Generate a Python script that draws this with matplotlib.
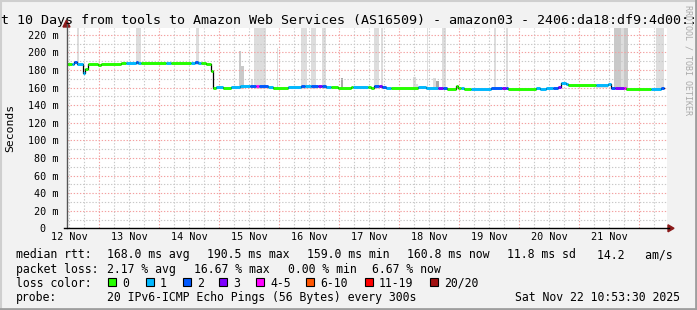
import matplotlib
matplotlib.use('Agg')
import matplotlib.pyplot as plt
from matplotlib.lines import Line2D
from matplotlib.patches import Rectangle, Polygon
from datetime import datetime, timedelta

W, H = 697, 310
start = datetime(2025, 11, 12, 10, 53, 30)
end = datetime(2025, 11, 22, 10, 53, 30)

# ---- median rtt: step changes (hours since start), value in ms, lost pings of 20
seg_hours = [0.0, 2.1, 2.9, 4.3, 6.5, 7.2, 8.5, 12.5, 13.9, 21.9, 23.9, 27.9, 28.5, 29.9,
             39.9, 41.9, 49.9, 51.2, 52.5, 53.9, 55.9, 57.9, 58.5, 59.9, 62.5, 65.9, 69.2,
             73.2, 75.9, 76.8, 80.5, 82.5, 88.5, 93.9, 95.2, 97.9, 100.5, 102.1, 103.9, 105.9,
             108.5, 113.9, 114.5, 120.5, 121.9, 122.8, 124.8, 126.1, 127.9, 129.9, 140.5,
             143.9, 148.5, 150.5, 152.3, 155.6, 156.5, 157.9, 158.9, 161.9, 169.9, 174.1,
             175.9, 176.5, 187.9, 189.2, 191.9, 194.5, 196.5, 197.6, 199.9, 200.5, 211.9,
             216.5, 217.9, 219.2, 222.8, 223.9, 233.9, 237.9]
seg_end_hour = 238.8
seg_ms = [187, 187, 189, 187, 177, 181, 187, 185.5, 187, 188, 188, 189, 188, 188,
          188, 188, 188, 189, 188, 188, 187, 179, 160, 161, 159, 161, 162,
          162, 162, 162, 161, 160, 161, 162, 161.5, 162, 162, 162, 160.5, 160.5,
          159.5, 160.5, 160.5, 160.5, 159.5, 162, 162, 160.5, 159.5, 159.5, 160.5,
          159.5, 159, 159, 158.8, 162, 159.5, 160, 158.8, 158.8, 159.5, 159.5,
          159.5, 158.8, 160, 158.8, 160, 160, 160.5, 165, 163.5, 163, 163,
          164, 160, 160, 160, 158.8, 158.8, 160]
seg_loss = [0, 1, 2, 1, 1, 0, 0, 0, 0, 0, 1, 2, 1, 0,
            1, 0, 1, 2, 1, 0, 0, 0, 0, 1, 0, 1, 1,
            2, 4, 2, 1, 0, 1, 2, 1, 2, 3, 2, 1, 0,
            0, 0, 1, 0, 0, 2, 3, 2, 1, 0, 1,
            1, 3, 2, 0, 0, 0, 1, 0, 1, 2, 3,
            2, 0, 1, 1, 1, 2, 3, 1, 1, 0, 1,
            1, 2, 3, 4, 0, 1, 2]

# ---- smoke (spread of pings): start/end hours, low/high ms, tone index
smoke_start = [4.0, 27.9, 51.9, 74.8, 93.9, 97.9, 102.1, 122.8, 125.6, 144.0, 150.1, 170.8,
               175.9, 218.8, 221.9, 222.8, 235.9,
               68.8, 69.9, 73.9, 84.1, 109.9, 138.5, 139.9, 146.5, 147.9, 211.9]
smoke_end = [4.8, 29.9, 52.8, 79.9, 96.0, 99.9, 103.9, 124.8, 126.5, 144.8, 151.9, 171.9,
             176.8, 221.9, 222.8, 224.5, 238.8,
             69.9, 70.8, 74.8, 84.7, 110.8, 139.9, 140.8, 147.9, 148.8, 216.5]
smoke_low = [186, 186, 186, 158, 158, 158, 158, 158, 158, 158, 158, 157,
             157, 158, 158, 158, 157,
             158, 158, 158, 158, 158, 158, 158, 158, 158, 160]
smoke_high = [260, 260, 260, 260, 260, 260, 260, 260, 260, 260, 260, 260,
              260, 260, 260, 260, 260,
              201, 185, 170, 204.5, 171, 172, 164, 171, 167, 164.5]
smoke_tone = [0, 0, 0, 0, 0, 0, 0, 0, 0, 0, 0, 0,
              0, 1, 0, 1, 0,
              1, 1, 0, 0, 2, 0, 0, 0, 2, 0]
tone_colors = ['#dddddd', '#c9c9c9', '#a9a9a9']

y_ticks = [0, 20, 40, 60, 80, 100, 120, 140, 160, 180, 200, 220]
y_labels = ['0  ', '20 m', '40 m', '60 m', '80 m', '100 m', '120 m', '140 m',
            '160 m', '180 m', '200 m', '220 m']
day_labels = ['12 Nov', '13 Nov', '14 Nov', '15 Nov', '16 Nov', '17 Nov',
              '18 Nov', '19 Nov', '20 Nov', '21 Nov']

loss_labels = ['0', '1', '2', '3', '4-5', '6-10', '11-19', '20/20']
loss_colors = ['#26ff00', '#00b8ff', '#0059ff', '#7e00ff', '#ff00ff', '#ff5500', '#ff0000', '#a01010']

title = 'Last 10 Days from tools to Amazon Web Services (AS16509) - amazon03 - 2406:da18:df9:4d00::'
rtt_stats = ['168.0 ms avg', '190.5 ms max', '159.0 ms min', '160.8 ms now', '11.8 ms sd', '14.2   am/s']
loss_stats = ['2.17 % avg', '16.67 % max', '0.00 % min', '6.67 % now']
probe_text = '20 IPv6-ICMP Echo Pings (56 Bytes) every 300s'
stamp_text = 'Sat Nov 22 10:53:30 2025'


def loss_index(n):
    if n <= 3:
        return n
    if n <= 5:
        return 4
    if n <= 10:
        return 5
    if n <= 19:
        return 6
    return 7


def fx(x):
    return x / W


def fy(y):
    return 1 - y / H


MONO = 'DejaVu Sans Mono'
plt.rcParams['font.family'] = MONO

fig = plt.figure(figsize=(W / 100, H / 100), dpi=100, facecolor='#f2f2f2')

L, R, T, B = 66.5, 666.5, 27.7, 228.3
ax = fig.add_axes([fx(L), fy(B), (R - L) / W, (B - T) / H])
ax.set_facecolor('white')
for s in ax.spines.values():
    s.set_visible(False)
ax.set_xlim(start, end)
ax.set_ylim(0, 228)


def t(h):
    return start + timedelta(hours=h)


# smoke bars
for s0, s1, lo, hi, tn in zip(smoke_start, smoke_end, smoke_low, smoke_high, smoke_tone):
    ax.bar(t(s0), hi - lo, bottom=lo, width=(s1 - s0) / 24.0, align='edge',
           color=tone_colors[tn], linewidth=0, zorder=1)

# grid
minor_col = '#c8c8c8'
major_col = '#f3a0a0'
gt = datetime(2025, 11, 12, 12)
while gt < end:
    if gt > start:
        is_major = (gt.hour == 0)
        ax.axvline(gt, color=major_col if is_major else minor_col, lw=0.8,
                   ls=(0, (1.2, 1.6)), zorder=2)
    gt += timedelta(hours=6)
for v in range(10, 228, 10):
    ax.axhline(v, color=major_col if v % 20 == 0 else minor_col, lw=0.8,
               ls=(0, (1.2, 1.6)), zorder=2)

# median line: black step + coloured segments
xs = [t(h) for h in seg_hours] + [t(seg_end_hour)]
ys = seg_ms + [seg_ms[-1]]
ax.step(xs, ys, where='post', color='black', lw=0.9, zorder=3)
seg_ends = seg_hours[1:] + [seg_end_hour]
ax.hlines(seg_ms, [t(h) for h in seg_hours], [t(h) for h in seg_ends],
          colors=[loss_colors[loss_index(n)] for n in seg_loss], lw=2.1, zorder=4)

# ticks
ax.set_yticks(y_ticks)
ax.set_yticklabels(y_labels)
noons = [datetime(2025, 11, 12 + i, 12) for i in range(len(day_labels))]
ax.set_xticks(noons)
ax.set_xticklabels(day_labels)
ax.tick_params(axis='both', length=0, labelsize=7.3, colors='black')
ax.tick_params(axis='y', pad=6)
ax.tick_params(axis='x', pad=3)

# axes lines and arrows
fig.add_artist(Line2D([fx(L), fx(L)], [fy(B), fy(24)], color='#555555', lw=1))
fig.add_artist(Line2D([fx(L - 3), fx(669)], [fy(B), fy(B)], color='black', lw=1))
fig.add_artist(Polygon([[fx(L - 3.5), fy(27)], [fx(L + 3.5), fy(27)], [fx(L), fy(20)]],
                       closed=True, color='#8b1a1a'))
fig.add_artist(Polygon([[fx(668), fy(B - 3.5)], [fx(668), fy(B + 3.5)], [fx(674), fy(B)]],
                       closed=True, color='#8b1a1a'))

# title & labels
fig.text(fx(-23), fy(24), title, fontsize=9.6, ha='left', va='baseline', family=MONO)
fig.text(fx(10), fy(128), 'Seconds', fontsize=8.2, rotation=90, ha='center', va='center')
fig.text(fx(688), fy(60), 'RRDTOOL / TOBI OETIKER', fontsize=6.0, rotation=270,
         ha='center', va='center', color='#aaaaaa')

# legend rows (baselines)
fs = 8.3
rows_y = [258, 273, 287, 301]
fig.text(fx(16), fy(rows_y[0]), 'median rtt:', fontsize=fs, va='baseline')
for xpos, s in zip([107, 207, 307, 407, 507, 597], rtt_stats):
    fig.text(fx(xpos), fy(rows_y[0]), s, fontsize=fs, va='baseline')
fig.text(fx(16), fy(rows_y[1]), 'packet loss:', fontsize=fs, va='baseline')
for xpos, s in zip([107, 194, 288, 372], loss_stats):
    fig.text(fx(xpos), fy(rows_y[1]), s, fontsize=fs, va='baseline')
fig.text(fx(16), fy(rows_y[2]), 'loss color:', fontsize=fs, va='baseline')
box_x = [108, 146, 183, 219, 256, 306, 365, 430]
for bx, lab, col in zip(box_x, loss_labels, loss_colors):
    fig.add_artist(Rectangle((fx(bx), fy(286)), 8 / W, 8 / H, facecolor=col,
                             edgecolor='black', lw=0.8))
    fig.text(fx(bx + 14), fy(rows_y[2]), lab, fontsize=fs, va='baseline')
fig.text(fx(16), fy(rows_y[3]), 'probe:', fontsize=fs, va='baseline')
fig.text(fx(107), fy(rows_y[3]), probe_text, fontsize=fs, va='baseline')
fig.text(fx(680), fy(rows_y[3]), stamp_text, fontsize=fs, va='baseline', ha='right')

# 3D frame
fig.add_artist(Line2D([0, 1], [fy(1), fy(1)], color='#cfcfcf', lw=1.5))
fig.add_artist(Line2D([fx(1), fx(1)], [0, 1], color='#cfcfcf', lw=1.5))
fig.add_artist(Line2D([0, 1], [fy(308.5), fy(308.5)], color='#9e9e9e', lw=2))
fig.add_artist(Line2D([fx(695.5), fx(695.5)], [0, 1], color='#9e9e9e', lw=2))

fig.savefig('out.png', dpi=100, facecolor=fig.get_facecolor())
